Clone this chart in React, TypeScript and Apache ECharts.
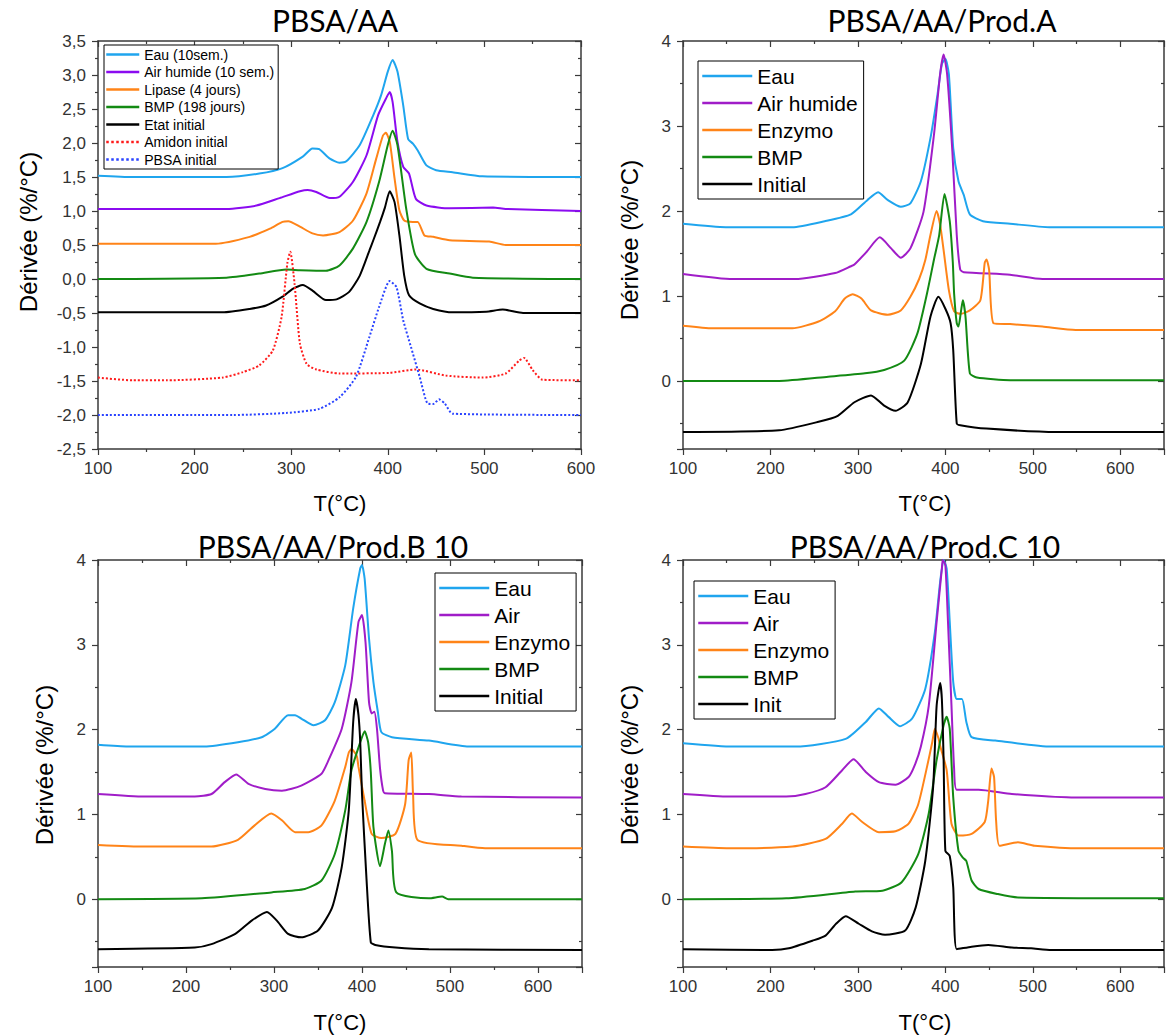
import React, { useEffect, useRef } from 'react';
import * as echarts from 'echarts';

type P = [number, number][];

// ---------- Panel 1 : PBSA/AA ----------
const p1Eau: P = [[100,1.52],[136,1.50],[233,1.50],[267,1.55],[291,1.63],[312,1.80],[322,1.92],[329,1.91],[340,1.77],[350,1.71],[357,1.73],[371,1.97],[385,2.41],[393,2.70],[400,3.05],[405,3.22],[410,3.05],[416,2.55],[421,2.06],[426,1.99],[431,1.89],[440,1.67],[450,1.60],[467,1.57],[498,1.51],[600,1.50]];
const p1Air: P = [[100,1.03],[233,1.03],[264,1.08],[288,1.19],[309,1.29],[317,1.31],[326,1.28],[340,1.19],[350,1.21],[364,1.43],[378,1.82],[390,2.41],[398,2.65],[402,2.75],[405,2.60],[410,2.02],[416,1.65],[422,1.55],[429,1.18],[440,1.08],[464,1.04],[509,1.05],[522,1.03],[600,1.00]];
const p1Lip: P = [[100,0.52],[222,0.52],[257,0.62],[278,0.74],[291,0.84],[297,0.85],[309,0.77],[322,0.67],[333,0.64],[350,0.69],[364,0.86],[378,1.26],[388,1.77],[395,2.11],[398,2.15],[402,2.02],[407,1.48],[412,1.01],[417,0.86],[426,0.84],[431,0.84],[438,0.64],[447,0.62],[464,0.57],[505,0.55],[522,0.50],[600,0.50]];
const p1BMP: P = [[100,0.0],[233,0.02],[267,0.08],[295,0.14],[309,0.13],[336,0.12],[350,0.20],[364,0.45],[378,0.84],[391,1.43],[400,1.97],[405,2.18],[410,1.97],[419,1.04],[428,0.37],[440,0.15],[464,0.08],[488,0.02],[600,0.0]];
const p1Init: P = [[100,-0.49],[229,-0.49],[257,-0.44],[274,-0.39],[291,-0.26],[302,-0.14],[312,-0.09],[322,-0.17],[336,-0.31],[347,-0.30],[360,-0.19],[371,0.05],[381,0.42],[385,0.57],[392,0.84],[397,1.05],[402,1.29],[407,1.13],[412,0.64],[417,0.05],[422,-0.24],[433,-0.36],[447,-0.44],[467,-0.49],[502,-0.48],[519,-0.45],[540,-0.50],[600,-0.50]];
const p1Amidon: P = [[100,-1.45],[136,-1.49],[171,-1.49],[229,-1.45],[250,-1.37],[267,-1.27],[281,-1.05],[290,-0.56],[296,0.23],[299,0.40],[303.5,-0.07],[309,-0.95],[316,-1.25],[326,-1.33],[350,-1.39],[402,-1.38],[429,-1.33],[460,-1.42],[498,-1.45],[522,-1.39],[536,-1.20],[541,-1.16],[550,-1.34],[560,-1.48],[600,-1.49]];
const p1PBSA: P = [[100,-2.0],[240,-2.0],[295,-1.97],[329,-1.91],[350,-1.74],[367,-1.44],[381,-0.85],[391,-0.41],[402,-0.03],[409,-0.12],[416,-0.61],[424,-1.0],[433,-1.44],[441,-1.83],[447,-1.84],[453,-1.77],[459,-1.83],[467,-1.98],[600,-2.0]];

// ---------- Panel 2 : PBSA/AA/Prod.A ----------
const p2Eau: P = [[100,1.85],[149,1.81],[225,1.81],[262,1.88],[292,1.96],[311,2.13],[323,2.22],[334,2.13],[349,2.05],[360,2.09],[372,2.35],[383,2.86],[391,3.37],[396,3.73],[400,3.79],[404,3.61],[409,2.74],[415,2.35],[421,2.19],[428,1.96],[443,1.88],[474,1.85],[519,1.81],[650,1.81]];
const p2Air: P = [[100,1.26],[157,1.20],[228,1.20],[274,1.27],[292,1.35],[296,1.37],[310,1.52],[325,1.69],[338,1.56],[349,1.45],[360,1.56],[375,1.99],[387,2.90],[394,3.61],[398,3.84],[402,3.61],[408,2.70],[413,1.72],[417,1.31],[421,1.28],[474,1.25],[511,1.20],[650,1.20]];
const p2Enz: P = [[100,0.65],[134,0.62],[225,0.62],[255,0.70],[274,0.82],[285,0.97],[294,1.02],[304,0.97],[315,0.83],[334,0.78],[349,0.83],[360,0.99],[370,1.20],[377,1.42],[383,1.72],[390,2.00],[394,1.84],[398,1.54],[404,1.07],[410,0.82],[417,0.79],[428,0.83],[440,0.95],[445,1.39],[447,1.43],[450,1.31],[455,0.68],[474,0.67],[511,0.64],[549,0.60],[650,0.60]];
const p2BMP: P = [[100,0],[210,0],[266,0.05],[308,0.09],[330,0.13],[353,0.24],[368,0.56],[379,1.03],[387,1.43],[393,1.72],[399,2.20],[405,1.88],[408.5,1.40],[410,1.03],[413,0.68],[415,0.64],[418,0.83],[420,0.95],[423,0.76],[428,0.09],[436,0.04],[474,0.01],[650,0.01]];
const p2Init: P = [[100,-0.60],[210,-0.58],[255,-0.48],[277,-0.41],[296,-0.25],[315,-0.17],[330,-0.29],[343,-0.35],[357,-0.25],[372,0.20],[383,0.76],[392,0.99],[400,0.85],[406,0.68],[409,0.36],[413,-0.50],[417,-0.52],[447,-0.56],[527,-0.60],[650,-0.60]];

// ---------- Panel 3 : PBSA/AA/Prod.B 10 ----------
const p3Eau: P = [[100,1.82],[134,1.80],[221,1.80],[259,1.85],[286,1.91],[301,2.01],[316,2.17],[324,2.17],[331,2.13],[345,2.05],[358,2.11],[369,2.32],[381,2.76],[390,3.43],[398,3.90],[400,3.94],[403,3.78],[408,3.07],[413,2.56],[418,2.21],[422,1.97],[434,1.91],[476,1.87],[521,1.80],[650,1.80]];
const p3Air: P = [[100,1.24],[153,1.21],[210,1.21],[229,1.24],[244,1.38],[257,1.47],[271,1.36],[290,1.30],[309,1.28],[331,1.34],[354,1.48],[362,1.64],[377,2.01],[388,2.56],[396,3.27],[400,3.35],[404,3.03],[408,2.32],[411,2.19],[414,2.21],[417,2.01],[420.5,1.54],[424,1.28],[426,1.25],[476,1.24],[513,1.21],[650,1.20]];
const p3Enz: P = [[100,0.64],[153,0.62],[229,0.62],[259,0.70],[278,0.87],[297,1.01],[309,0.93],[324,0.79],[339,0.79],[354,0.87],[369,1.16],[381,1.56],[385,1.73],[388,1.77],[394,1.69],[396,1.56],[403,1.16],[411,0.77],[422,0.72],[438,0.77],[449,1.12],[453,1.64],[456,1.73],[458,1.24],[463,0.70],[513,0.63],[540,0.60],[650,0.60]];
const p3BMP: P = [[100,0],[218,0.01],[297,0.08],[335,0.12],[354,0.22],[369,0.53],[381,1.05],[388,1.52],[398,1.85],[403,1.98],[407,1.85],[410,1.50],[413,0.85],[420.5,0.39],[426,0.65],[430,0.81],[434,0.57],[439,0.08],[476,0.01],[491,0.03],[498,0],[650,0]];
const p3Init: P = [[100,-0.59],[210,-0.57],[229,-0.53],[256,-0.41],[275,-0.25],[292,-0.15],[303,-0.25],[316,-0.41],[331,-0.45],[350,-0.37],[366,-0.10],[377,0.38],[385,1.05],[390,2.09],[393,2.36],[396,2.17],[398,1.85],[400,1.24],[405,0.26],[410,-0.51],[415,-0.54],[438,-0.57],[476,-0.59],[650,-0.60]];

// ---------- Panel 4 : PBSA/AA/Prod.C 10 ----------
const p4Eau: P = [[100,1.84],[157,1.80],[229,1.80],[286,1.89],[309,2.09],[324,2.25],[335,2.15],[348,2.04],[362,2.13],[377,2.48],[388,3.15],[394,3.74],[398,4.00],[401.5,3.90],[405,3.27],[409,2.56],[413,2.36],[419,2.36],[424,2.09],[430,1.91],[457,1.87],[521,1.80],[650,1.80]];
const p4Air: P = [[100,1.24],[153,1.21],[218,1.21],[240,1.24],[263,1.32],[282,1.52],[295,1.65],[309,1.50],[324,1.38],[343,1.35],[358,1.44],[365,1.58],[372,1.80],[381,2.28],[390,3.27],[396,3.90],[397,4.00],[400,3.94],[403,3.27],[407,2.28],[410,1.54],[413,1.29],[438,1.29],[476,1.24],[544,1.20],[650,1.20]];
const p4Enz: P = [[100,0.62],[153,0.60],[225,0.62],[263,0.71],[282,0.89],[293,1.01],[305,0.91],[324,0.79],[343,0.80],[358,0.89],[369,1.12],[379,1.56],[385,1.85],[388,2.01],[392,1.90],[394,1.81],[401.5,1.52],[407,0.89],[415,0.75],[430,0.77],[445,0.91],[449,1.16],[452.7,1.54],[455.7,1.44],[458,0.93],[462,0.63],[483,0.67],[502,0.63],[555,0.60],[650,0.60]];
const p4BMP: P = [[100,0],[218,0.01],[297,0.09],[328,0.10],[350,0.20],[369,0.53],[381,1.01],[390,1.64],[398,2.05],[401.5,2.15],[405,2.01],[409,1.20],[415,0.57],[420,0.49],[424,0.45],[430,0.22],[438,0.12],[460,0.06],[483,0.02],[650,0.01]];
const p4Init: P = [[100,-0.59],[202,-0.60],[221,-0.58],[248,-0.49],[263,-0.43],[275,-0.29],[286,-0.20],[301,-0.29],[316,-0.38],[331,-0.42],[354,-0.37],[366,-0.10],[377,0.45],[386,1.32],[390,2.28],[394,2.55],[396,2.36],[398,1.64],[400,0.57],[405,0.51],[409,0.14],[413,-0.59],[430,-0.56],[449,-0.54],[476,-0.57],[498,-0.58],[521,-0.60],[650,-0.60]];

const titles = ['PBSA/AA', 'PBSA/AA/Prod.A', 'PBSA/AA/Prod.B 10', 'PBSA/AA/Prod.C 10'];
const yName = 'Dérivée (%/°C)';
const xName = 'T(°C)';

const COL = {
  eau: '#1FA5EE', air1: '#8B0BF0', air: '#A01DC8', orange: '#FF8418',
  green: '#138A13', black: '#000000', red: '#FF1A1A', blue: '#2A43FF',
};
const AX = '#3a3a3a';
const FONT = "'Liberation Sans', Arial, sans-serif";

type S = { name: string; data: P; color: string; dotted?: boolean };
const panels: S[][] = [
  [
    { name: 'Eau (10sem.)', data: p1Eau, color: COL.eau },
    { name: 'Air humide (10 sem.)', data: p1Air, color: COL.air1 },
    { name: 'Lipase (4 jours)', data: p1Lip, color: COL.orange },
    { name: 'BMP (198 jours)', data: p1BMP, color: COL.green },
    { name: 'Etat initial', data: p1Init, color: COL.black },
    { name: 'Amidon initial', data: p1Amidon, color: COL.red, dotted: true },
    { name: 'PBSA initial', data: p1PBSA, color: COL.blue, dotted: true },
  ],
  [
    { name: 'Eau', data: p2Eau, color: COL.eau },
    { name: 'Air humide', data: p2Air, color: COL.air },
    { name: 'Enzymo', data: p2Enz, color: COL.orange },
    { name: 'BMP', data: p2BMP, color: COL.green },
    { name: 'Initial', data: p2Init, color: COL.black },
  ],
  [
    { name: 'Eau', data: p3Eau, color: COL.eau },
    { name: 'Air', data: p3Air, color: COL.air },
    { name: 'Enzymo', data: p3Enz, color: COL.orange },
    { name: 'BMP', data: p3BMP, color: COL.green },
    { name: 'Initial', data: p3Init, color: COL.black },
  ],
  [
    { name: 'Eau', data: p4Eau, color: COL.eau },
    { name: 'Air', data: p4Air, color: COL.air },
    { name: 'Enzymo', data: p4Enz, color: COL.orange },
    { name: 'BMP', data: p4BMP, color: COL.green },
    { name: 'Init', data: p4Init, color: COL.black },
  ],
];

const grids = [
  { left: 98, top: 41, width: 483, height: 408 },
  { left: 683, top: 41, width: 483, height: 408 },
  { left: 98, top: 560, width: 484, height: 407 },
  { left: 683, top: 560, width: 483, height: 407 },
];

function buildOption() {
  const xAxis: any[] = [];
  const yAxis: any[] = [];
  grids.forEach((g, i) => {
    const xmax = i === 0 ? 600 : 650;
    for (const pos of ['bottom', 'top']) {
      xAxis.push({
        type: 'value', gridIndex: i, position: pos, min: 100, max: xmax, interval: 100,
        axisLine: { show: true, onZero: false, lineStyle: { color: AX, width: 1.5 } },
        axisTick: { show: true, inside: pos === 'top', length: 6, lineStyle: { color: AX, width: 1.2 } },
        minorTick: { show: true, splitNumber: 2, length: 3, lineStyle: { color: AX, width: 1.2 } },
        splitLine: { show: false },
        axisLabel: pos === 'bottom'
          ? { show: true, margin: 11, fontSize: 17, fontFamily: FONT, color: '#333',
              formatter: (v: number) => (v > 600 ? '' : String(v)) }
          : { show: false },
      });
    }
    for (const pos of ['left', 'right']) {
      const base: any = {
        type: 'value', gridIndex: i, position: pos,
        axisLine: { show: true, onZero: false, lineStyle: { color: AX, width: 1.5 } },
        axisTick: { show: true, inside: pos === 'right', length: 6, lineStyle: { color: AX, width: 1.2 } },
        minorTick: { show: true, splitNumber: 2, length: 3, lineStyle: { color: AX, width: 1.2 } },
        splitLine: { show: false },
      };
      if (i === 0) {
        base.min = -2.5; base.max = 3.5; base.interval = 0.5;
        base.axisLabel = pos === 'left'
          ? { show: true, margin: 12, fontSize: 17, fontFamily: FONT, color: '#333',
              formatter: (v: number) => v.toFixed(1).replace('.', ',') }
          : { show: false };
      } else {
        base.min = -0.8; base.max = 4; base.splitNumber = 5;
        base.axisLabel = pos === 'left'
          ? { show: true, margin: 12, fontSize: 17, fontFamily: FONT, color: '#333',
              formatter: (v: number) => (Math.abs(v - Math.round(v)) < 1e-6 ? String(Math.abs(Math.round(v)) === 0 ? 0 : Math.round(v)) : '') }
          : { show: false };
      }
      yAxis.push(base);
    }
  });

  const series: any[] = [];
  panels.forEach((list, i) => {
    list.forEach((s) => {
      series.push({
        type: 'line', name: s.name, data: s.data,
        xAxisIndex: 2 * i, yAxisIndex: 2 * i,
        symbol: 'none', showSymbol: false, smooth: 0.2, clip: true,
        lineStyle: { color: s.color, width: 2, type: s.dotted ? 'dotted' : 'solid' },
        itemStyle: { color: s.color },
        emphasis: { disabled: true },
      });
    });
  });

  const legendBase = (left: number, top: number, names: string[], big: boolean) => ({
    show: true, orient: 'vertical', left, top, selectedMode: false,
    itemWidth: big ? 50 : 33, itemHeight: big ? 24 : 15, itemGap: big ? 3 : 2.5,
    padding: big ? [3, 6, 3, 3] : [2, 4, 2, 1],
    borderColor: '#000', borderWidth: 1, borderRadius: 0, backgroundColor: '#fff',
    itemStyle: { opacity: 0 },
    lineStyle: { width: 2.5 },
    textStyle: { fontSize: big ? 21 : 14, lineHeight: big ? 24 : 15, fontFamily: FONT, color: '#000' },
    data: names,
  });

  const legend = [
    legendBase(104, 45, panels[0].map((s) => s.name), false),
    legendBase(698, 61, panels[1].map((s) => s.name), true),
    legendBase(435, 573, panels[2].map((s) => s.name), true),
    legendBase(694, 581, panels[3].map((s) => s.name), true),
  ];

  const titlePos = [[335, 20], [942, 20], [333, 546], [925, 546]];
  const yNamePos = [[28, 232], [629, 240], [44, 765], [629, 765]];
  const xNamePos = [[340, 503], [925, 503], [340, 1022], [925, 1022]];
  const graphic: any[] = [];
  titles.forEach((t, i) => {
    graphic.push({ type: 'text', x: titlePos[i][0], y: titlePos[i][1], z: 10,
      style: { text: t, font: "30px Lato, 'Open Sans', sans-serif", fill: '#000', align: 'center', verticalAlign: 'middle' } });
    graphic.push({ type: 'text', x: yNamePos[i][0], y: yNamePos[i][1], rotation: Math.PI / 2, z: 10,
      style: { text: yName, font: `24px ${FONT}`, fill: '#000', align: 'center', verticalAlign: 'middle' } });
    graphic.push({ type: 'text', x: xNamePos[i][0], y: xNamePos[i][1], z: 10,
      style: { text: xName, font: `22px ${FONT}`, fill: '#000', align: 'center', verticalAlign: 'middle' } });
  });

  return {
    animation: false,
    backgroundColor: '#fff',
    grid: grids.map((g) => ({ ...g, containLabel: false })),
    xAxis, yAxis, series, legend, graphic,
  };
}

export default function App() {
  const ref = useRef<HTMLDivElement>(null);
  useEffect(() => {
    if (!ref.current) return;
    const chart = echarts.init(ref.current, undefined, { renderer: 'svg' });
    chart.setOption(buildOption() as any);
    return () => chart.dispose();
  }, []);
  return (
    <div
      ref={ref}
      style={{ position: 'absolute', left: 0, top: 0, width: 1167, height: 1036, background: '#fff' }}
    />
  );
}
